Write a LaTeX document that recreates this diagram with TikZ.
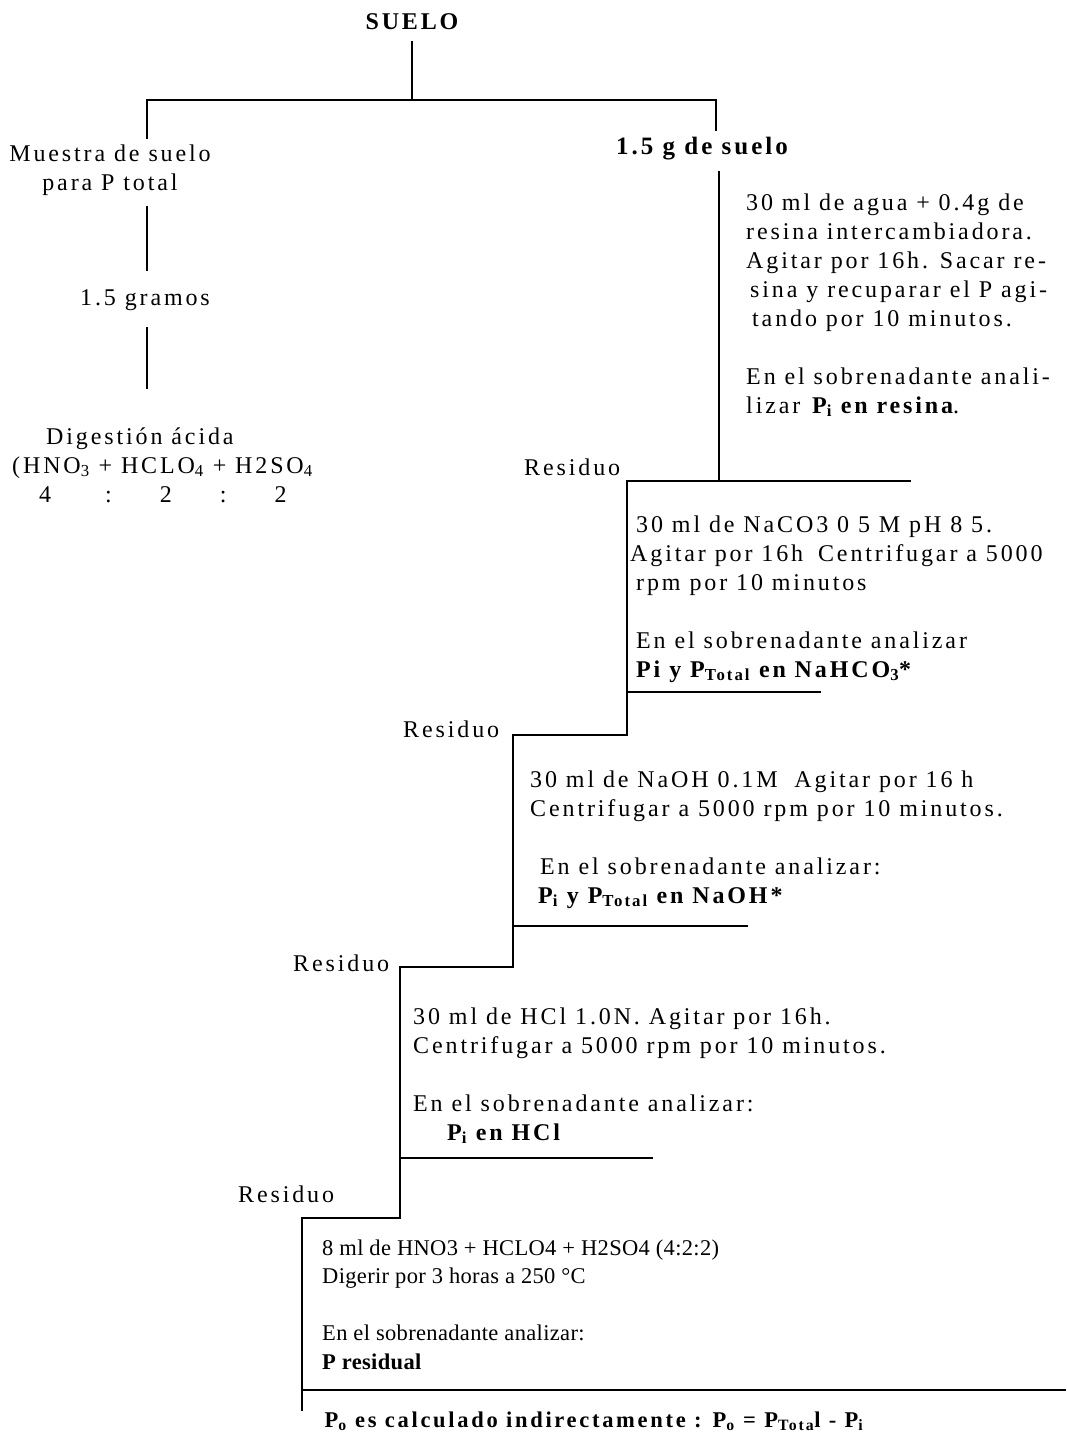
\documentclass[tikz,border=0pt]{standalone}
\usepackage{fontspec}
\setmainfont{Liberation Serif}[LetterSpace=12]
\newfontfamily\plainserif{Liberation Serif}[LetterSpace=1.5]
\begin{document}
\begin{tikzpicture}[x=1pt,y=-1pt,
  txt/.style={inner sep=0pt, font=\fontsize{24}{29}\selectfont},
  txtb/.style={txt, font=\fontsize{24}{29}\selectfont\bfseries},
  txtc/.style={inner sep=0pt, font=\plainserif\fontsize{22.5}{28.5}\selectfont},
  ln/.style={line width=1.6pt, line cap=rect}]
\useasboundingbox (0,0) rectangle (1067,1436);

% ---------- texts ----------
\node[txtb, anchor=base] (suelo) at (412,29) {SUELO};
\node[txt, anchor=base] (muestra) at (110,161)
  {\begin{tabular}[t]{@{}c@{}}Muestra de suelo\\para P total\end{tabular}};
\node[txt, anchor=base] (gramos) at (145,305) {1.5 gramos};
\node[txt, anchor=base west] (digest) at (12,444)
  {\begin{tabular}[t]{@{}l@{}}\hspace{34pt}Digestión ácida\\
   (HNO\textsubscript{3} + HCLO\textsubscript{4} + H2SO\textsubscript{4}\\
   \hspace{27pt}4\hspace{54pt}:\hspace{48pt}2\hspace{48pt}:\hspace{48pt}2\end{tabular}};
\node[txtb, anchor=base, font=\fontsize{25}{29}\selectfont\bfseries] (g15) at (702,154) {1.5 g de suelo};

\node[txt, anchor=base west] (b1) at (746,210)
  {\begin{tabular}[t]{@{}l@{}}30 ml de agua + 0.4g de\\
   resina intercambiadora.\\
   Agitar por 16h. Sacar re-\\
   \hspace{4pt}sina y recuparar el P agi-\\
   \hspace{6pt}tando por 10 minutos.\\
   \\
   En el sobrenadante anali-\\
   lizar \textbf{P\textsubscript{i} en resina}.\end{tabular}};
\node[txt, anchor=base west] (r1) at (524,475) {Residuo};

\node[txt, anchor=base west] (b2) at (636,532)
  {\begin{tabular}[t]{@{}l@{}}30 ml de NaCO3 0 5 M pH 8 5.\\
   \hspace{-6pt}Agitar por 16h\hspace{6pt} Centrifugar a 5000\\
   rpm por 10 minutos\\
   \\
   En el sobrenadante analizar\\
   \textbf{Pi y P\textsubscript{Total} en NaHCO\textsubscript{3}*}\end{tabular}};
\node[txt, anchor=base west] (r2) at (403,737) {Residuo};

\node[txt, anchor=base west] (b3) at (530,787)
  {\begin{tabular}[t]{@{}l@{}}30 ml de NaOH 0.1M\hspace{8pt} Agitar por 16 h\\
   Centrifugar a 5000 rpm por 10 minutos.\\
   \\
   \hspace{10pt}En el sobrenadante analizar:\\
   \hspace{8pt}\textbf{P\textsubscript{i} y P\textsubscript{Total} en NaOH*}\end{tabular}};
\node[txt, anchor=base west] (r3) at (293,971) {Residuo};

\node[txt, anchor=base west] (b4) at (413,1024)
  {\begin{tabular}[t]{@{}l@{}}30 ml de HCl 1.0N. Agitar por 16h.\\
   Centrifugar a 5000 rpm por 10 minutos.\\
   \\
   En el sobrenadante analizar:\\
   \hspace{34pt}\textbf{P\textsubscript{i} en HCl}\end{tabular}};
\node[txt, anchor=base west] (r4) at (238,1202) {Residuo};

\node[txtc, anchor=base west] (b5) at (322,1255)
  {\begin{tabular}[t]{@{}l@{}}8 ml de HNO3 + HCLO4 + H2SO4 (4:2:2)\\
   Digerir por 3 horas a 250 °C\\
   \\
   En el sobrenadante analizar:\\
   \textbf{P residual}\end{tabular}};
\node[inner sep=0pt, anchor=base, font=\fontsize{22.5}{28.5}\selectfont\bfseries] (po) at (594,1427)
  {P\textsubscript{o} es calculado indirectamente : P\textsubscript{o} = P\textsubscript{Tota}l - P\textsubscript{i}};

% ---------- junction coordinates ----------
\coordinate (s0) at (412,42);
\coordinate (s1) at (412,100);
\coordinate (hl) at (147,100);
\coordinate (hr) at (716,100);
\coordinate (hl2) at (147,138);
\coordinate (hr2) at (716,130);
\coordinate (m1) at (147,207);
\coordinate (m2) at (147,270);
\coordinate (m3) at (147,328);
\coordinate (m4) at (147,388);
\coordinate (v1t) at (719,172);
\coordinate (v1b) at (719,481);
\coordinate (h1a) at (627,481);
\coordinate (h1b) at (910,481);
\coordinate (v2b) at (627,735);
\coordinate (h2s) at (627,692);
\coordinate (h2e) at (820,692);
\coordinate (v3t) at (513,735);
\coordinate (v3b) at (513,967);
\coordinate (h3s) at (513,926);
\coordinate (h3e) at (747,926);
\coordinate (v4t) at (400,967);
\coordinate (v4b) at (400,1218);
\coordinate (h4s) at (400,1158);
\coordinate (h4e) at (652,1158);
\coordinate (v5t) at (302,1218);
\coordinate (v5b) at (302,1410);
\coordinate (h5s) at (302,1390);
\coordinate (h5e) at (1065,1390);

% ---------- lines ----------
\draw[ln] (s0) -- (s1);
\draw[ln] (hl2) -- (hl) -- (hr) -- (hr2);
\draw[ln] (m1) -- (m2);
\draw[ln] (m3) -- (m4);
\draw[ln] (v1t) -- (v1b);
\draw[ln] (h1a) -- (h1b);
\draw[ln] (h1a) -- (v2b) -- (v3t) -- (v3b) -- (v4t) -- (v4b) -- (v5t) -- (v5b);
\draw[ln] (h2s) -- (h2e);
\draw[ln] (h3s) -- (h3e);
\draw[ln] (h4s) -- (h4e);
\draw[ln] (h5s) -- (h5e);
\end{tikzpicture}
\end{document}
